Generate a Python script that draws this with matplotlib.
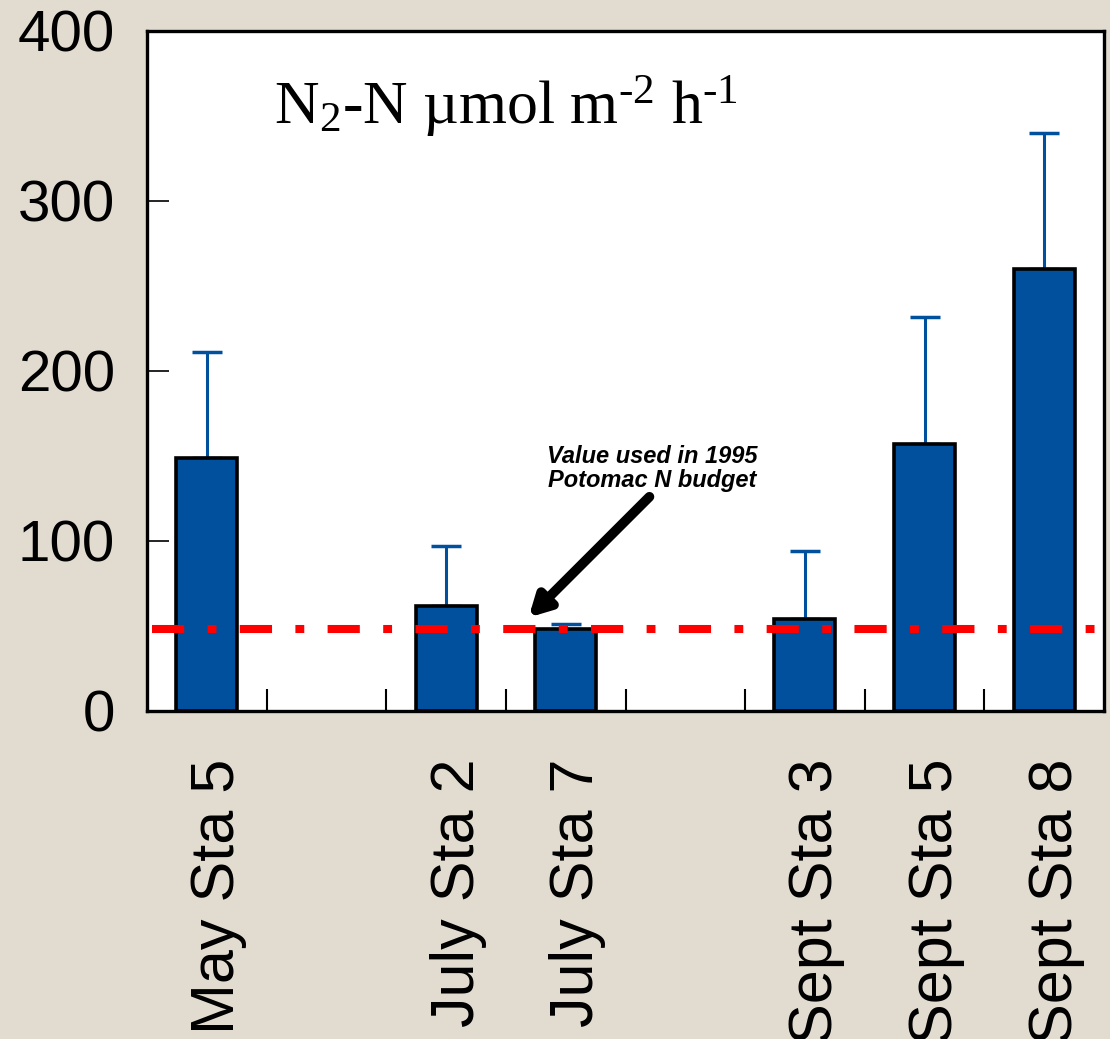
import matplotlib
matplotlib.use("Agg")
import matplotlib.pyplot as plt
import matplotlib.transforms as mtransforms

# Data
categories = ["May Sta 5", "", "July Sta 2", "July Sta 7", "", "Sept Sta 3", "Sept Sta 5", "Sept Sta 8"]
rates = [149, None, 62, 48, None, 54, 157, 260]
upper_err = [62, None, 35, 3, None, 40, 75, 80]
budget_value = 48
y_ticks = [0, 100, 200, 300, 400]

plt.rcParams["mathtext.fontset"] = "custom"
plt.rcParams["mathtext.rm"] = "Liberation Serif"
plt.rcParams["mathtext.it"] = "Liberation Serif:italic"
plt.rcParams["mathtext.bf"] = "Liberation Serif:bold"

BG = "#E2DCD0"
BLUE = "#00509E"

fig = plt.figure(figsize=(11.10, 10.39), dpi=100, facecolor=BG)
ax = fig.add_axes([147 / 1110, 1 - 711 / 1039, (1104 - 147) / 1110, (711 - 31) / 1039])
ax.set_facecolor("white")

xs = [i for i, v in enumerate(rates) if v is not None]
vals = [rates[i] for i in xs]
errs = [upper_err[i] for i in xs]

ax.errorbar(xs, vals, yerr=[[0] * len(errs), errs], fmt="none", ecolor=BLUE,
            elinewidth=2.2, capsize=11, capthick=2.5, zorder=2)
ax.bar(xs, vals, width=0.51, color=BLUE, edgecolor="black", linewidth=2.6, zorder=3)

# Reference budget line
ax.axhline(budget_value, xmin=0.005, xmax=0.995, color="#FF0000", linewidth=5.8,
           dashes=(4.0, 2.9, 1.1, 2.9), solid_capstyle="butt", dash_capstyle="butt", zorder=4)

ax.set_xlim(-0.5, len(categories) - 0.5)
ax.set_ylim(0, 400)

ax.set_yticks(y_ticks)
ax.set_yticklabels([str(t) for t in y_ticks], fontsize=42, family="Liberation Sans")
ax.tick_params(axis="y", direction="in", length=16, width=1.2, pad=23)

# Minor ticks at slot boundaries, labels on slot centres
ax.set_xticks([i + 0.5 for i in range(len(categories) - 1)], minor=True)
ax.set_xticks(range(len(categories)))
ax.tick_params(axis="x", which="minor", direction="in", length=16, width=1.5)
ax.tick_params(axis="x", which="major", length=0, pad=34)
ax.set_xticklabels(categories, rotation=90, fontsize=44, family="Liberation Sans",
                   va="top", ha="center")
offset = mtransforms.ScaledTranslation(12 / 100, 0, fig.dpi_scale_trans)
for lbl in ax.get_xticklabels():
    lbl.set_transform(lbl.get_transform() + offset)

for s in ax.spines.values():
    s.set_linewidth(2.4)
    s.set_color("black")

ax.text(0.133, 0.889, "N$_2$-N \u00b5mol m$^{\u20102}$ h$^{\u20101}$", transform=ax.transAxes,
        fontsize=44.5, family="Liberation Serif", ha="left", va="center")

ax.text(3.72, 129, "Value used in 1995\nPotomac N budget", fontsize=17,
        family="Liberation Sans", fontweight="bold", fontstyle="italic",
        ha="center", va="bottom", linespacing=1.05)
ax.annotate("", xy=(2.69, 55), xytext=(3.70, 126),
            arrowprops=dict(arrowstyle="-|>,head_length=1.2,head_width=0.65",
                            color="black", lw=7, shrinkA=0, shrinkB=0))

fig.savefig("out.png", dpi=100, facecolor=BG)
